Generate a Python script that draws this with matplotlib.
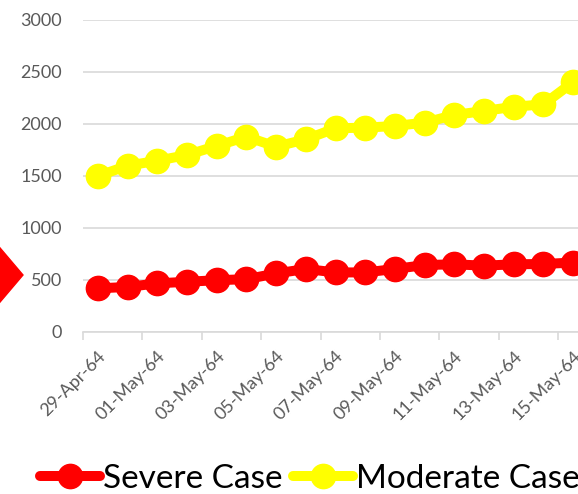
import matplotlib.pyplot as plt
from matplotlib.patches import Polygon

dates = ["29-Apr-64", "30-Apr-64", "01-May-64", "02-May-64", "03-May-64", "04-May-64",
         "05-May-64", "06-May-64", "07-May-64", "08-May-64", "09-May-64", "10-May-64",
         "11-May-64", "12-May-64", "13-May-64", "14-May-64", "15-May-64"]
severe = [417, 430, 465, 480, 495, 505, 560, 603, 570, 570, 603, 641, 648, 635, 648, 651, 665]
moderate = [1497, 1596, 1644, 1699, 1786, 1875, 1779, 1850, 1956, 1962, 1978, 2010,
            2084, 2122, 2163, 2186, 2400]

plt.rcParams["font.family"] = ["Lato", "DejaVu Sans"]

W, H = 578, 494
fig = plt.figure(figsize=(W / 100, H / 100), dpi=100)
# plot area runs past the right edge (picture is cropped)
ax = fig.add_axes([83 / W, (H - 331.7) / H, 505 / W, (331.7 - 19.7) / H])

x = list(range(len(dates)))
ax.plot(x, severe, color="#ff0000", lw=7.2, marker="o", ms=17.5, label="Severe Case",
        solid_capstyle="round", zorder=3)
ax.plot(x, moderate, color="#ffff00", lw=7.2, marker="o", ms=17.5, label="Moderate Case",
        solid_capstyle="round", zorder=3)

ax.set_xlim(-0.5, len(dates) - 0.5)
ax.set_ylim(0, 3000)
ax.set_yticks(range(0, 3001, 500))
ax.grid(axis="y", color="#d9d9d9", lw=1.2)
ax.set_axisbelow(True)

# ticks between categories every 2, labels on every other category
ax.set_xticks([i - 0.5 for i in range(0, len(dates), 2)], minor=True)
ax.set_xticks(x[::2])
ax.set_xticklabels(dates[::2], rotation=45, ha="right", rotation_mode="anchor",
                   fontsize=13, color="#595959")
ax.tick_params(axis="x", which="major", length=0, pad=12)
ax.tick_params(axis="x", which="minor", length=6, width=1.2, color="#d9d9d9")
ax.tick_params(axis="y", length=0, labelsize=13, labelcolor="#595959", pad=15)

for s in ["top", "right", "left"]:
    ax.spines[s].set_visible(False)
ax.spines["bottom"].set_color("#d9d9d9")
ax.spines["bottom"].set_linewidth(1.2)

fig.legend(loc="center left", bbox_to_anchor=(40 / W, (H - 479) / H), ncol=2, frameon=False,
           fontsize=24, handlelength=1.8, handletextpad=0.1, columnspacing=0.3,
           borderpad=0, borderaxespad=0, numpoints=1)

# red arrow shape sticking in from the left
arrow = Polygon([(-5 / W, (H - 242) / H), (23 / W, (H - 275) / H), (-5 / W, (H - 308) / H)],
                closed=True, transform=fig.transFigure, color="#ff0000")
fig.patches.append(arrow)

fig.savefig("out.png", dpi=100)
